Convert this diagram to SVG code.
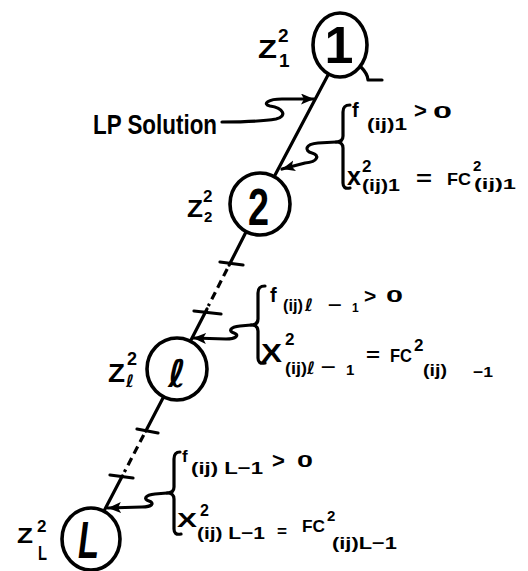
<svg xmlns="http://www.w3.org/2000/svg" width="528" height="571" viewBox="0 0 528 571">
<style>
.ln{stroke:#000;stroke-width:3.2;fill:none;stroke-linecap:round;stroke-linejoin:round}
.dash{stroke-dasharray:8 5;stroke-linecap:butt}
.nd{fill:#fff;stroke:#000;stroke-width:3.6}
.t{font-family:"Liberation Sans",Arial,"DejaVu Sans",sans-serif;font-weight:bold;fill:#000}
.sc{font-family:"DejaVu Sans",sans-serif;font-style:italic}
</style>
<defs>
<marker id="ah" markerUnits="userSpaceOnUse" markerWidth="14" markerHeight="12" refX="13" refY="5.5" orient="auto">
<path d="M0,0 L13,5.5 L0,11 L3,5.5 z" fill="#000"/>
</marker>
</defs>
<rect width="528" height="571" fill="#fff"/>
<g id="connectors">
<path class="ln" d="M328,75 L274,177"/>
<path class="ln" d="M246.5,231 L229.2,265"/>
<path class="ln dash" d="M227.2,269 L208.3,306"/>
<path class="ln" d="M207,309 L190.5,341"/>
<path class="ln" d="M163.5,397 L145.8,431"/>
<path class="ln dash" d="M143.7,435 L124.4,472"/>
<path class="ln" d="M122.3,476 L104,511"/>
<path class="ln" d="M220,262 L243,265"/>
<path class="ln" d="M194,311 L221,314"/>
<path class="ln" d="M137,429 L158,433"/>
<path class="ln" d="M110,475 L133,478"/>
<path class="ln" d="M360,66 C365,71 368,76 368,80 L382,80"/>
<path class="ln" marker-end="url(#ah)" d="M222,122 C245,122 265,121 276,119 C288,116 283,108 270,106 C262,104 268,99 282,99 L314,99"/>
<path class="ln" marker-end="url(#ah)" d="M336,142 L318,143 C305,144 304,151 312,153 C320,155 318,162 305,163 L282,169"/>
<path class="ln" marker-end="url(#ah)" d="M251,325 L240,326 C230,327 228,331 234,333 C240,335 236,339 226,339 L193,338"/>
<path class="ln" marker-end="url(#ah)" d="M167,493 L155,494 C145,495 143,499 149,501 C155,503 152,507 142,507 L108,508"/>
<path class="ln" d="M350,105 C345,105 343,107 343,112 L343,136 C343,140 341,142 336,142 C341,142 343,144 343,148 L343,183 C343,187 345,189 350,188"/>
<path class="ln" d="M265,286 C260,286 258,288 258,293 L258,319 C258,323 256,325 251,325 C256,325 258,327 258,331 L258,358 C258,362 260,364 265,363"/>
<path class="ln" d="M180,452 C176,452 174,454 174,459 L174,487 C174,491 172,493 167,493 C172,493 174,495 174,499 L174,529 C174,533 176,535 181,534"/>
</g>
<g id="node1">
<ellipse class="nd" cx="340" cy="45" rx="27" ry="32"/>
<text class="t" x="339" y="63" font-size="52" text-anchor="middle">1</text>
<text class="t"><tspan x="258" y="58" font-size="25" textLength="19" lengthAdjust="spacingAndGlyphs">Z</tspan><tspan x="278" y="42" font-size="19">2</tspan><tspan x="279" y="67" font-size="19">1</tspan></text>
</g>
<g id="node2">
<ellipse class="nd" cx="260" cy="204" rx="30" ry="31"/>
<text class="t" x="248" y="225" font-size="52" textLength="21" lengthAdjust="spacingAndGlyphs">2</text>
<text class="t"><tspan x="187" y="217" font-size="24" textLength="16" lengthAdjust="spacingAndGlyphs">Z</tspan><tspan x="203" y="202" font-size="17">2</tspan><tspan x="204" y="222" font-size="15">2</tspan></text>
</g>
<g id="nodel">
<ellipse class="nd" cx="177" cy="369" rx="30" ry="31"/>
<text class="t sc" x="168" y="387" font-size="38" font-weight="normal">ℓ</text>
<text class="t"><tspan x="108" y="382" font-size="26" textLength="17" lengthAdjust="spacingAndGlyphs">Z</tspan><tspan x="127" y="365" font-size="18">2</tspan><tspan class="sc" x="126" y="387" font-size="17">ℓ</tspan></text>
</g>
<g id="nodeL">
<ellipse class="nd" cx="91" cy="539" rx="29" ry="31"/>
<text class="t" x="78" y="558" font-size="52" font-style="italic" textLength="21" lengthAdjust="spacingAndGlyphs">L</text>
<text class="t"><tspan x="17" y="543" font-size="22" textLength="16" lengthAdjust="spacingAndGlyphs">Z</tspan><tspan x="37" y="532" font-size="17">2</tspan><tspan x="38" y="560" font-size="20" textLength="9" lengthAdjust="spacingAndGlyphs">L</tspan></text>
</g>
<g id="labels">
<text class="t" x="93" y="134" font-size="28" textLength="124" lengthAdjust="spacingAndGlyphs">LP Solution</text>
<text class="t"><tspan x="352" y="117" font-size="20">f</tspan><tspan x="367" y="130" font-size="16" textLength="40" lengthAdjust="spacingAndGlyphs">(ij)1</tspan><tspan x="414" y="118" font-size="22">&gt;</tspan><tspan x="433" y="118" font-size="16" textLength="19" lengthAdjust="spacingAndGlyphs">0</tspan></text>
<text class="t"><tspan x="347" y="185" font-size="25">x</tspan><tspan x="362" y="172" font-size="17">2</tspan><tspan x="362" y="191" font-size="16" textLength="38" lengthAdjust="spacingAndGlyphs">(ij)1</tspan><tspan x="416" y="185" font-size="20" textLength="16" lengthAdjust="spacingAndGlyphs">=</tspan><tspan x="447" y="185" font-size="17" textLength="24" lengthAdjust="spacingAndGlyphs">FC</tspan><tspan x="473" y="171" font-size="15">2</tspan><tspan x="474" y="189" font-size="15" textLength="42" lengthAdjust="spacingAndGlyphs">(ij)1</tspan></text>
<text class="t"><tspan x="270" y="302" font-size="20">f</tspan><tspan x="283" y="311" font-size="17" textLength="20" lengthAdjust="spacingAndGlyphs">(ij)</tspan><tspan class="sc" x="305" y="311" font-size="17">ℓ</tspan><tspan x="328" y="311" font-size="17" textLength="14" lengthAdjust="spacingAndGlyphs">−</tspan><tspan x="352" y="312" font-size="12">1</tspan><tspan x="364" y="303" font-size="21">&gt;</tspan><tspan x="386" y="302" font-size="16" textLength="17" lengthAdjust="spacingAndGlyphs">0</tspan></text>
<text class="t"><tspan x="261" y="362" font-size="26" textLength="21" lengthAdjust="spacingAndGlyphs">X</tspan><tspan x="285" y="345" font-size="17">2</tspan><tspan x="285" y="374" font-size="17" textLength="22" lengthAdjust="spacingAndGlyphs">(ij)</tspan><tspan class="sc" x="307" y="374" font-size="17">ℓ</tspan><tspan x="321" y="373" font-size="17" textLength="15" lengthAdjust="spacingAndGlyphs">−</tspan><tspan x="346" y="375" font-size="15">1</tspan><tspan x="366" y="361" font-size="18" textLength="14" lengthAdjust="spacingAndGlyphs">=</tspan><tspan x="390" y="362" font-size="18" textLength="22" lengthAdjust="spacingAndGlyphs">FC</tspan><tspan x="414" y="351" font-size="17">2</tspan><tspan x="423" y="376" font-size="17" textLength="24" lengthAdjust="spacingAndGlyphs">(ij)</tspan><tspan x="473" y="377" font-size="15" textLength="20" lengthAdjust="spacingAndGlyphs">−1</tspan></text>
<text class="t"><tspan x="182" y="462" font-size="17">f</tspan><tspan x="191" y="474" font-size="17" textLength="72" lengthAdjust="spacingAndGlyphs">(ij) L−1</tspan><tspan x="272" y="468" font-size="22">&gt;</tspan><tspan x="297" y="467" font-size="17" textLength="16" lengthAdjust="spacingAndGlyphs">0</tspan></text>
<text class="t"><tspan x="177" y="527" font-size="20" textLength="20" lengthAdjust="spacingAndGlyphs">X</tspan><tspan x="200" y="516" font-size="16">2</tspan><tspan x="197" y="539" font-size="17" textLength="68" lengthAdjust="spacingAndGlyphs">(ij) L−1</tspan><tspan x="277" y="537" font-size="16" textLength="10" lengthAdjust="spacingAndGlyphs">=</tspan><tspan x="302" y="532" font-size="17" textLength="23" lengthAdjust="spacingAndGlyphs">FC</tspan><tspan x="327" y="521" font-size="15">2</tspan><tspan x="332" y="549" font-size="17" textLength="65" lengthAdjust="spacingAndGlyphs">(ij)L−1</tspan></text>
</g>
</svg>
